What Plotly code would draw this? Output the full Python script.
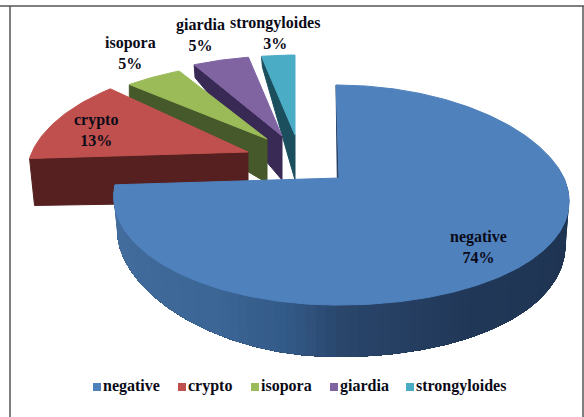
import numpy as np
import plotly.graph_objects as go

categories = ["negative", "crypto", "isopora", "giardia", "strongyloides"]
percent = [74, 13, 5, 5, 3]

top_colors = ["#4f81bd", "#c0504d", "#9bbb59", "#8064a2", "#4bacc6"]
side_colors = ["#22395a", "#55201f", "#46592a", "#392a55", "#1c4f5e"]

# Pie geometry in page pixels
CX, CY = 339, 178
RX_RIGHT, RX_LEFT, RY = 225, 222, 107.4
KX_RIGHT, KX_LEFT, KY = 0.21, 0.17, 0.155
SHEAR = 0.032
# Per-slice explosion offset, radial scale and wall heights
explode_dx = [0, -91, -72, -57, -44]
explode_dy = [0, -26, -39, -42, -43]
scale_x = [1.0, 0.96, 0.96, 0.96, 0.96]
scale_y = [1.0, 0.95, 0.82, 0.86, 0.86]
wall_apex = [0, 50, 44, 44, 45]
wall_rim = [0, 47, 16, 13, 11]
wall_rim_dx = [0, 5, 0, 1, 1]


def project(theta, sx=1.0, sy=1.0):
    """Map clockwise-from-north angles (degrees) on the tilted disc to the page."""
    t = np.radians(theta)
    x, y = np.sin(t), -np.cos(t)
    return RX_RIGHT * sx * x / (1 - KX_RIGHT * y), RY * sy * y / (1 - KY * y)


def project_main(theta):
    """Same mapping for the large slice, whose left half is slightly narrower."""
    t = np.radians(theta)
    x, y = np.sin(t), -np.cos(t)
    right = x >= 0
    px = np.where(right, RX_RIGHT * x / (1 - KX_RIGHT * y), RX_LEFT * x / (1 - KX_LEFT * y))
    py = RY * y / (1 - KY * y)
    return px + SHEAR * np.minimum(py, 0), py


def main_wall(theta):
    t = np.radians(theta)
    x, y = np.sin(t), np.clip(-np.cos(t), 0, 1)
    return np.where(x >= 0, 34 + 18 * np.sqrt(y), 33 + 19 * y ** 2.5)


fig = go.Figure()


def poly(xs, ys, color, width=1):
    fig.add_trace(go.Scatter(x=xs, y=ys, mode="lines", fill="toself", fillcolor=color,
                             line=dict(color=color, width=width), hoverinfo="skip", showlegend=False))


edges = np.cumsum([0] + percent) * 3.6

# Exploded slices, drawn back to front
for i in [4, 3, 2, 1]:
    a0, a1 = edges[i], edges[i + 1]
    th = np.linspace(a0, a1, 40)
    px, py = project(th, scale_x[i], scale_y[i])
    ax = CX + explode_dx[i]
    ay = CY + explode_dy[i]
    px, py = ax + px, ay + py
    # wall on the cut side facing the viewer
    poly([px[0], ax, ax, px[0] + wall_rim_dx[i], px[0]],
         [py[0], ay, ay + wall_apex[i], py[0] + wall_rim[i], py[0]], side_colors[i])
    poly(np.r_[ax, px, ax], np.r_[ay, py, ay], top_colors[i])

# Main slice: shaded outer wall followed by the top face.
# Each band runs to the end of the wall and the next one paints over it, so no seams show.
a0, a1 = edges[0], edges[1]
th = np.linspace(a0, a1, 361)
px, py = project_main(th)
wall = main_wall(th)
bx = CX + px * 0.985
by = CY + py + wall
px, py = CX + px, CY + py
vis = np.where(th >= 85)[0]
stops = [(85, (30, 50, 78)), (150, (33, 56, 88)), (178, (42, 70, 107)),
         (190, (51, 90, 136)), (207, (60, 102, 150)), (a1, (70, 113, 160))]
for j in range(0, len(vis) - 2, 3):
    k = vis[j:]
    mid = th[vis[j]]
    c = [np.interp(mid, [s[0] for s in stops], [s[1][n] for s in stops]) for n in range(3)]
    poly(np.r_[px[k], bx[k][::-1]], np.r_[py[k], by[k][::-1]], "rgb(%d,%d,%d)" % tuple(c), width=0)

# Thin sliver of the cut face along the slice's straight back edge
poly([px[0], CX - 1.7, CX], [py[0], CY, CY], side_colors[0])
poly(np.r_[CX, px, CX], np.r_[CY, py, CY], top_colors[0])

# Slice labels
label_xy = [(478, 247), (96, 130), (130, 53), (200, 35), (275, 33)]
for name, pct, (lx, ly) in zip(categories, percent, label_xy):
    fig.add_annotation(x=lx, y=ly, text=f"{name}<br>{pct}%", showarrow=False, align="center",
                       font=dict(family="Liberation Serif", size=16, color="#0b0b18", weight="bold"))

# Legend row
legend_x = [97, 182, 255, 334, 410]
fig.add_trace(go.Scatter(
    x=legend_x, y=[387] * 5, mode="markers+text", text=categories,
    textposition="middle right", hoverinfo="skip", showlegend=False,
    textfont=dict(family="Liberation Serif", size=16, color="#0b0b18", weight="bold"),
    marker=dict(symbol="square", size=8, color=top_colors),
))

fig.update_layout(
    width=584, height=417, margin=dict(l=0, r=0, t=0, b=0),
    paper_bgcolor="white", plot_bgcolor="white", showlegend=False,
    xaxis=dict(range=[0, 584], visible=False, fixedrange=True),
    yaxis=dict(range=[417, 0], visible=False, fixedrange=True),
    shapes=[
        dict(type="line", x0=0, x1=584, y0=6, y1=6, line=dict(color="#555555", width=1.5)),
        dict(type="line", x0=10, x1=10, y0=6, y1=417, line=dict(color="#555555", width=1.5)),
        dict(type="line", x0=583, x1=583, y0=6, y1=417, line=dict(color="#555555", width=1.5)),
    ],
)
fig.write_html("out.html")
